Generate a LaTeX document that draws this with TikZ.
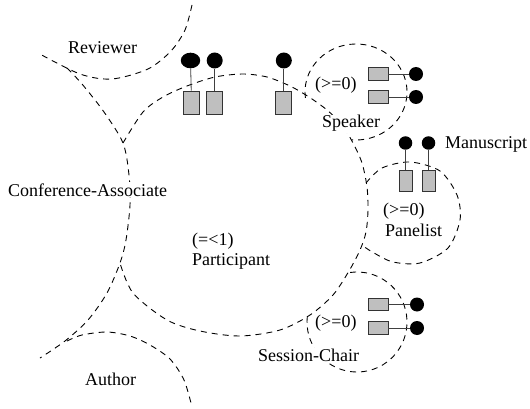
\documentclass[tikz,border=0pt]{standalone}
\usepackage{fontspec}
\setmainfont{Liberation Serif}
\usetikzlibrary{shapes.geometric}
\begin{document}
\begin{tikzpicture}[x=1pt,y=-1pt,
  boundary/.style={draw=black, line width=0.9pt, dash pattern=on 6pt off 5pt},
  lbl/.style={fill=white, inner sep=1pt, anchor=base west, font=\fontsize{18}{20}\selectfont},
  portbox/.style={rectangle, draw=black!80, fill=black!25, line width=0.9pt, inner sep=0pt},
  tallport/.style={portbox, minimum width=16pt, minimum height=23pt},
  slimport/.style={portbox, minimum width=13pt, minimum height=21pt},
  wideport/.style={portbox, minimum width=20pt, minimum height=12.5pt},
  dot/.style={circle, fill=black, inner sep=0pt, minimum size=#1},
  dot/.default=14pt,
  stem/.style={draw=black!75, line width=0.8pt}]
\useasboundingbox (0,0) rectangle (530,409);

% role boundaries
\draw[boundary] plot[smooth] coordinates {(192,5) (185,30) (171,51) (148,69) (112,79) (80,74) (38,53)};
\draw[boundary] plot[smooth] coordinates {(67,68) (82,84) (104,112) (123,143) (129,175) (130,205) (126,240) (120,263) (107,293) (88,320) (65,341) (40,358)};
\draw[boundary] plot[smooth] coordinates {(67,341) (82,335) (107,332) (130,336) (150,345) (170,359) (184,380) (192,407)};
\draw[boundary] plot[smooth] coordinates {(123,143) (143,112) (163,97) (187,86) (215,77) (243,74) (267,77) (290,86) (309,97) (327,110) (342,125) (353,143) (362,163) (367,187) (368,210) (366,232) (360,250) (349,271) (333,295) (310,315) (280,330) (240,336) (200,331) (167,320) (133,293) (120,263)};
\draw[boundary] (356,92) ++(173:51 and 48) arc[start angle=173, end angle=455, x radius=51, y radius=48];
\draw[boundary] plot[smooth] coordinates {(366,183) (382,168) (410,162) (440,171) (457,195) (460,220) (448,248) (420,263) (393,262) (374,253) (363,246)};
\draw[boundary] (357,322) ++(262:50) arc[start angle=262, end angle=547, radius=50];

% labels
\node[lbl] (rev) at (67,54) {Reviewer};
\node[lbl] (ca) at (7,196) {Conference-Associate};
\node[lbl] (pcard) at (191,245) {(=<1)};
\node[lbl] (part) at (191,265) {Participant};
\node[lbl] (spcard) at (314,90) {(>=0)};
\node[lbl] (spk) at (321,128) {Speaker};
\node[lbl] (pncard) at (382,215) {(>=0)};
\node[lbl] (pan) at (384,236) {Panelist};
\node[lbl] (ms) at (444,149) {Manuscript};
\node[lbl] (sccard) at (314,327) {(>=0)};
\node[lbl] (sc) at (257,361) {Session-Chair};
\node[lbl] (auth) at (84,385) {Author};

% ports on the participant
\node[tallport] (p1) at (191.5,102.5) {};
\node[tallport] (p2) at (214.7,102.5) {};
\node[tallport] (p3) at (283.8,102.5) {};
\node[ellipse, fill=black, inner sep=0pt, minimum width=19.4pt, minimum height=15.6pt] (e1) at (190.5,60.5) {};
\node[dot=16pt] (e2) at (214.7,60.5) {};
\node[dot=16pt] (e3) at (283.8,60.5) {};
\draw[stem] (e1) -- (p1);
\draw[stem] (e2) -- (p2);
\draw[stem] (e3) -- (p3);

% ports on the speaker
\node[wideport] (s1) at (378,74) {};
\node[wideport] (s2) at (378,97) {};
\node[dot] (t1) at (416,74) {};
\node[dot] (t2) at (416,97) {};
\draw[stem] (s1) -- (t1);
\draw[stem] (s2) -- (t2);

% ports on the panelist
\node[slimport] (q1) at (405.5,180.5) {};
\node[slimport] (q2) at (428.5,180.5) {};
\node[dot=13.5pt] (u1) at (405.5,143) {};
\node[dot=13.5pt] (u2) at (428.5,143) {};
\draw[stem] (u1) -- (q1);
\draw[stem] (u2) -- (q2);

% ports on the session chair
\node[wideport] (c1) at (378,304.5) {};
\node[wideport] (c2) at (378,328) {};
\node[dot] (v1) at (417,304.5) {};
\node[dot] (v2) at (417,328) {};
\draw[stem] (c1) -- (v1);
\draw[stem] (c2) -- (v2);
\end{tikzpicture}
\end{document}
